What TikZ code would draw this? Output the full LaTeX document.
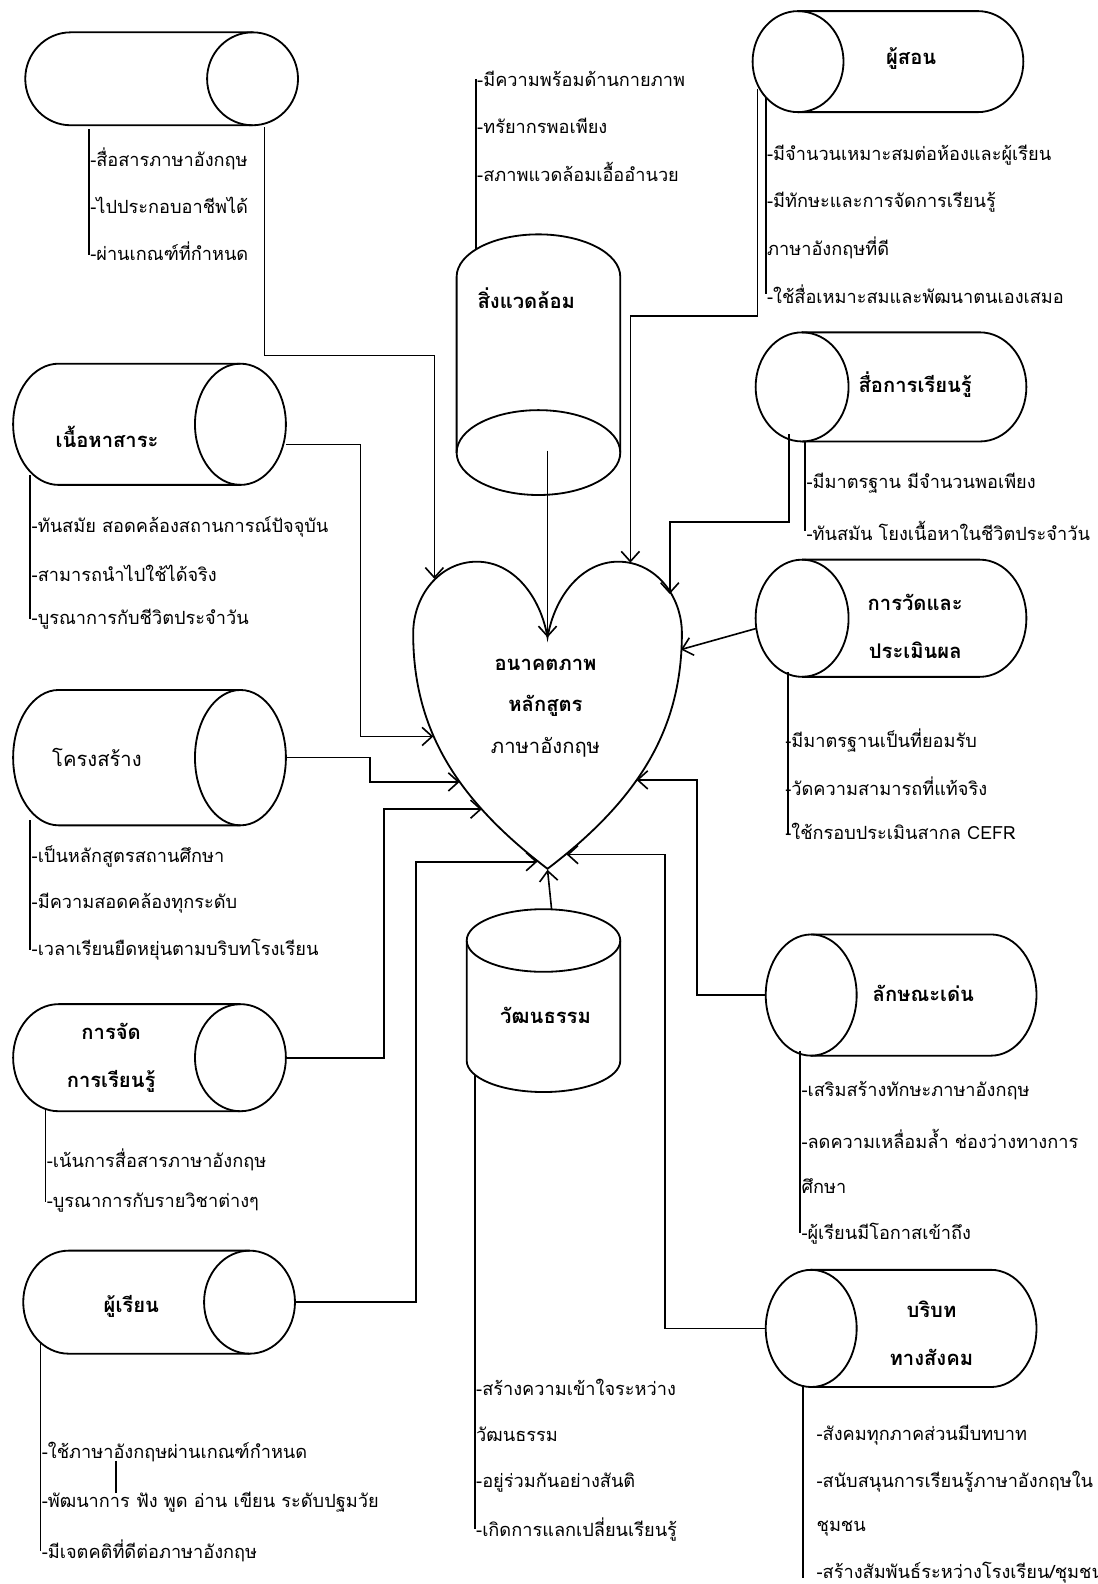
\documentclass[tikz,border=0pt]{standalone}
\usepackage{fontspec}
\setmainfont[Script=Thai]{Loma}
\usetikzlibrary{arrows.meta}
\begin{document}
\begin{tikzpicture}[x=0.5pt,y=-0.5pt,
  cyl/.style={line width=0.9pt},
  brk/.style={line width=0.8pt},
  conn/.style={line width=0.8pt,-{Straight Barb[length=5pt,width=9pt]}},
  item/.style={anchor=west,inner sep=0pt,font=\fontsize{9}{11}\selectfont},
  lbl/.style={align=center,inner sep=0pt,font=\fontsize{10}{23.5}\selectfont\bfseries},
  lbllight/.style={lbl,font=\fontsize{10}{23.5}\selectfont}]
\useasboundingbox (0,0) rectangle (1086,1568);
% left column
\draw[cyl] (250,32) -- (70,32) arc[start angle=270,end angle=90,x radius=45,y radius=46] -- (250,124);
\draw[cyl] (250,78) ellipse[x radius=45,y radius=46];
\draw[cyl] (238,360) -- (58,360) arc[start angle=270,end angle=90,x radius=45,y radius=60] -- (238,480);
\draw[cyl] (238,420) ellipse[x radius=45,y radius=60];
\draw[cyl] (238,683) -- (58,683) arc[start angle=270,end angle=90,x radius=45,y radius=67] -- (238,817);
\draw[cyl] (238,750) ellipse[x radius=45,y radius=67];
\draw[cyl] (238,994) -- (58,994) arc[start angle=270,end angle=90,x radius=45,y radius=53] -- (238,1100);
\draw[cyl] (238,1047) ellipse[x radius=45,y radius=53];
\draw[cyl] (247,1238) -- (68,1238) arc[start angle=270,end angle=90,x radius=45,y radius=51] -- (247,1340);
\draw[cyl] (247,1289) ellipse[x radius=45,y radius=51];
% right column
\draw[cyl] (790,11) -- (968,11) arc[start angle=-90,end angle=90,x radius=45,y radius=50] -- (790,111);
\draw[cyl] (790,61) ellipse[x radius=45,y radius=50];
\draw[cyl] (794,329) -- (970,329) arc[start angle=-90,end angle=90,x radius=46,y radius=54] -- (794,437);
\draw[cyl] (794,383) ellipse[x radius=46,y radius=54];
\draw[cyl] (794,554) -- (970,554) arc[start angle=-90,end angle=90,x radius=46,y radius=58] -- (794,670);
\draw[cyl] (794,612) ellipse[x radius=46,y radius=58];
\draw[cyl] (803,925) -- (981,925) arc[start angle=-90,end angle=90,x radius=45,y radius=60] -- (803,1045);
\draw[cyl] (803,985) ellipse[x radius=45,y radius=60];
\draw[cyl] (803,1257) -- (981,1257) arc[start angle=-90,end angle=90,x radius=45,y radius=58] -- (803,1373);
\draw[cyl] (803,1315) ellipse[x radius=45,y radius=58];
% middle
\draw[cyl] (452,448) -- (452,274) arc[start angle=180,end angle=360,x radius=81,y radius=42] -- (614,448);
\draw[cyl] (533,448) ellipse[x radius=81,y radius=42];
\draw[cyl] (462,931) -- (462,1050) arc[start angle=180,end angle=0,x radius=76,y radius=31] -- (614,931);
\draw[cyl] (538,931) ellipse[x radius=76,y radius=31];
\draw[cyl] (542,631) .. controls (535,590) and (508,556) .. (472,556)
  .. controls (435,556) and (409,590) .. (409,627)
  .. controls (409,720) and (450,790) .. (542,860)
  .. controls (634,790) and (675,720) .. (675,627)
  .. controls (675,590) and (649,556) .. (612,556)
  .. controls (576,556) and (549,590) .. (542,631) -- cycle;

\node[lbl] (nContent) at (106,432) {เนื้อหาสาระ};
\node[lbllight] (nStruct) at (96,750) {โครงสร้าง};
\node[lbl] (nTeach) at (110,1047) {การจัด\\การเรียนรู้};
\node[lbl] (nLearner) at (130,1293) {ผู้เรียน};
\node[lbl] (nTeacher) at (902,58) {ผู้สอน};
\node[lbl] (nMedia) at (906,381) {สื่อการเรียนรู้};
\node[lbl] (nEval) at (906,620) {การวัดและ\\ประเมินผล};
\node[lbl] (nFeat) at (914,983) {ลักษณะเด่น};
\node[lbl] (nSoc) at (922,1320) {บริบท\\ทางสังคม};
\node[lbl] (nEnv) at (521,295) {สิ่งแวดล้อม};
\node[lbl] (nCult) at (540,1005) {วัฒนธรรม};
\node[lbl,font=\fontsize{10}{20.5}\selectfont\bfseries] (heart) at (540,701) {อนาคตภาพ\\หลักสูตร\\{\mdseries ภาษาอังกฤษ}};

% lists
\draw[brk] (88,128) -- (88,252);
\node[item] (tA1) at (89,157) {-สื่อสารภาษาอังกฤษ};
\node[item] (tA2) at (89,203) {-ไปประกอบอาชีพได้};
\node[item] (tA3) at (89,249) {-ผ่านเกณฑ์ที่กำหนด};
\draw[brk] (471,78) -- (471,247);
\node[item] (tK1) at (472,78) {-มีความพร้อมด้านกายภาพ};
\node[item] (tK2) at (472,125) {-ทรัยากรพอเพียง};
\node[item] (tK3) at (472,170) {-สภาพแวดล้อมเอื้ออำนวย};
\draw[brk] (758,97) -- (758,291);
\node[item] (tF1) at (759,154) {-มีจำนวนเหมาะสมต่อห้องและผู้เรียน};
\node[item] (tF2) at (759,200) {-มีทักษะและการจัดการเรียนรู้};
\node[item] (tF3) at (759,245) {ภาษาอังกฤษที่ดี};
\node[item] (tF4) at (759,291) {-ใช้สื่อเหมาะสมและพัฒนาตนเองเสมอ};
\draw[brk] (797,437) -- (797,526);
\node[item] (tG1) at (798,478) {-มีมาตรฐาน มีจำนวนพอเพียง};
\node[item] (tG2) at (798,526) {-ทันสมัน โยงเนื้อหาในชีวิตประจำวัน};
\draw[brk] (780,665) -- (780,826);
\node[item] (tH1) at (777,733) {-มีมาตรฐานเป็นที่ยอมรับ};
\node[item] (tH2) at (777,778) {-วัดความสามารถที่แท้จริง};
\node[item] (tH3) at (777,823) {-ใช้กรอบประเมินสากล CEFR};
\draw[brk] (30,470) -- (30,613);
\node[item] (tB1) at (31,522) {-ทันสมัย สอดคล้องสถานการณ์ปัจจุบัน};
\node[item] (tB2) at (31,568) {-สามารถนำไปใช้ได้จริง};
\node[item] (tB3) at (31,613) {-บูรณาการกับชีวิตประจำวัน};
\draw[brk] (30,812) -- (30,940);
\node[item] (tC1) at (31,848) {-เป็นหลักสูตรสถานศึกษา};
\node[item] (tC2) at (31,894) {-มีความสอดคล้องทุกระดับ};
\node[item] (tC3) at (31,940) {-เวลาเรียนยืดหยุ่นตามบริบทโรงเรียน};
\draw[brk] (45,1098) -- (45,1190);
\node[item] (tD1) at (46,1148) {-เน้นการสื่อสารภาษาอังกฤษ};
\node[item] (tD2) at (46,1190) {-บูรณาการกับรายวิชาต่างๆ};
\draw[brk] (40,1329) -- (40,1535);
\node[item] (tE1) at (41,1437) {-ใช้ภาษาอังกฤษผ่านเกณฑ์กำหนด};
\node[item] (tE2) at (41,1487) {-พัฒนาการ ฟัง พูด อ่าน เขียน ระดับปฐมวัย};
\node[item] (tE3) at (41,1535) {-มีเจตคติที่ดีต่อภาษาอังกฤษ};
\draw[brk] (115,1446) -- (115,1478);
\draw[brk] (470,1064) -- (470,1514);
\node[item] (tL1) at (471,1373) {-สร้างความเข้าใจระหว่าง};
\node[item] (tL2) at (471,1420) {วัฒนธรรม};
\node[item] (tL3) at (471,1468) {-อยู่ร่วมกันอย่างสันติ};
\node[item] (tL4) at (471,1514) {-เกิดการแลกเปลี่ยนเรียนรู้};
\draw[brk] (792,1040) -- (792,1221);
\node[item] (tI1) at (793,1080) {-เสริมสร้างทักษะภาษาอังกฤษ};
\node[item] (tI2) at (793,1127) {-ลดความเหลื่อมล้ำ ช่องว่างทางการ};
\node[item] (tI3) at (793,1174) {ศึกษา};
\node[item] (tI4) at (793,1221) {-ผู้เรียนมีโอกาสเข้าถึง};
\draw[brk] (795,1372) -- (795,1562);
\node[item] (tJ1) at (808,1421) {-สังคมทุกภาคส่วนมีบทบาท};
\node[item] (tJ2) at (808,1467) {-สนับสนุนการเรียนรู้ภาษาอังกฤษใน};
\node[item] (tJ3) at (808,1513) {ชุมชน};
\node[item] (tJ4) at (808,1557) {-สร้างสัมพันธ์ระหว่างโรงเรียน/ชุมชน};

% connectors
\coordinate (cA) at (262,126); \coordinate (hA) at (430,573);
\coordinate (cB) at (283,440); \coordinate (hB) at (429,729);
\coordinate (cC) at (283,750); \coordinate (hC) at (455,774);
\coordinate (cD) at (283,1047); \coordinate (hD) at (477,801);
\coordinate (cE) at (292,1289); \coordinate (hE) at (532,853);
\coordinate (cK) at (542,446); \coordinate (hK) at (542,631);
\coordinate (cF) at (750,88); \coordinate (hF) at (624,557);
\coordinate (cG) at (781,430); \coordinate (hG) at (663,588);
\coordinate (cH) at (749,622); \coordinate (hH) at (674,643);
\coordinate (cI) at (758,985); \coordinate (hI) at (630,772);
\coordinate (cJ) at (758,1315); \coordinate (hJ) at (561,846);
\coordinate (cL) at (546,900); \coordinate (hL) at (542,861);
\draw[conn] (cA) -- ++(0,226) -| (hA);
\draw[conn] (cB) -- ++(74,0) |- (hB);
\draw[conn] (cC) -- ++(83,0) |- (hC);
\draw[conn] (cD) -- ++(97,0) |- (hD);
\draw[conn] (cE) -- ++(120,0) |- (hE);
\draw[conn] (cK) -- (hK);
\draw[conn] (cF) -- ++(0,225) -| (hF);
\draw[conn] (cG) -- ++(0,87) -| (hG);
\draw[conn] (cH) -- (hH);
\draw[conn] (cI) -- ++(-68,0) |- (hI);
\draw[conn] (cJ) -- ++(-100,0) |- (hJ);
\draw[conn] (cL) -- (hL);
\end{tikzpicture}
\end{document}
